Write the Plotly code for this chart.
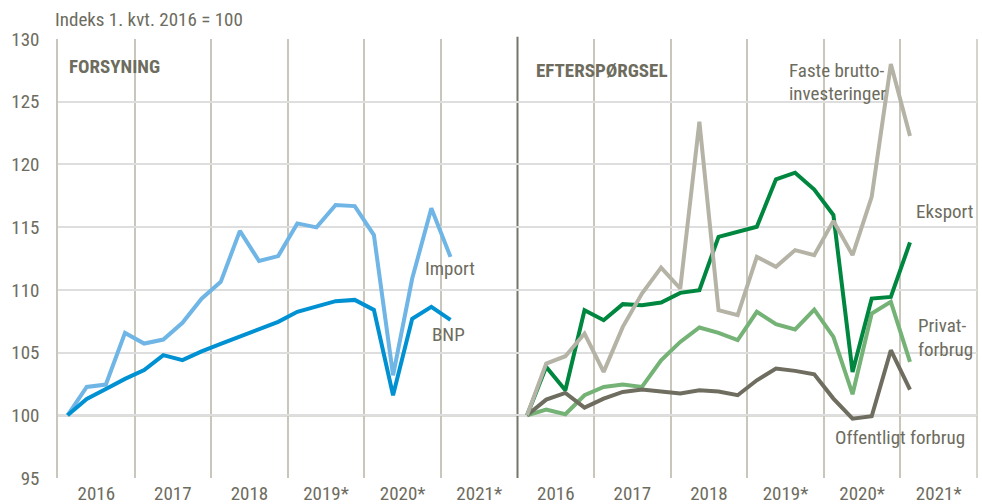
import plotly.graph_objects as go
from plotly.subplots import make_subplots

# ---------------- data ----------------
quarters = ["2016K1", "2016K2", "2016K3", "2016K4",
            "2017K1", "2017K2", "2017K3", "2017K4",
            "2018K1", "2018K2", "2018K3", "2018K4",
            "2019K1", "2019K2", "2019K3", "2019K4",
            "2020K1", "2020K2", "2020K3", "2020K4",
            "2021K1"]
year_labels = ["2016", "2017", "2018", "2019*", "2020*", "2021*"]
year_starts = [2016, 2017, 2018, 2019, 2020, 2021]

bnp = [100, 101.3, 102.1, 102.9, 103.6, 104.8, 104.4, 105.1, 105.7, 106.3, 106.9,
       107.45, 108.25, 108.7, 109.1, 109.2, 108.4, 101.6, 107.7, 108.65, 107.6]
imports = [100, 102.26, 102.45, 106.57, 105.72, 106.04, 107.37, 109.3, 110.64, 114.7, 112.3,
           112.69, 115.3, 114.98, 116.76, 116.68, 114.37, 103.19, 110.9, 116.5, 112.63]

eksport = [100, 103.86, 102.0, 108.38, 107.58, 108.86, 108.78, 108.99, 109.76, 109.98, 114.23,
           114.63, 115.03, 118.81, 119.34, 118.0, 115.96, 103.46, 109.31, 109.44, 113.78]
faste = [100, 104.12, 104.71, 106.52, 103.46, 107.05, 109.71, 111.78, 110.11, 123.41, 108.38,
         107.98, 112.63, 111.84, 113.17, 112.77, 115.5, 112.77, 117.42, 128.0, 122.27]
privat = [100, 100.45, 100.08, 101.6, 102.26, 102.45, 102.26, 104.39, 105.85, 107.0, 106.57,
          105.99, 108.25, 107.26, 106.84, 108.43, 106.25, 101.68, 108.12, 109.05, 104.26]
offentlig = [100, 101.25, 101.78, 100.61, 101.33, 101.86, 102.05, 101.92, 101.73, 102.0, 101.9,
             101.6, 102.79, 103.73, 103.54, 103.27, 101.33, 99.73, 99.92, 105.19, 102.05]

# quarter label -> position on a linear time axis (centre of the quarter)
xq = [int(q[:4]) + (int(q[-1]) - 1) / 4 + 0.125 for q in quarters]
tick_pos = [y + 0.5 for y in year_starts]

# ---------------- style ----------------
FONT = "Roboto Condensed, Liberation Sans Narrow, Arial Narrow, sans-serif"
FS = 19
TXT = "#6d6c5e"
C_BNP = "#0091d3"
C_IMP = "#6fb5e5"
C_EKS = "#00873f"
C_FAS = "#b5b3a6"
C_PRI = "#74b276"
C_OFF = "#6f6d60"
LW = 4

fig = make_subplots(rows=1, cols=2, shared_yaxes=True, horizontal_spacing=0)

fig.add_trace(go.Scatter(x=xq, y=imports, mode="lines", name="Import",
                         line=dict(color=C_IMP, width=LW)), row=1, col=1)
fig.add_trace(go.Scatter(x=xq, y=bnp, mode="lines", name="BNP",
                         line=dict(color=C_BNP, width=LW)), row=1, col=1)

fig.add_trace(go.Scatter(x=xq, y=privat, mode="lines", name="Privatforbrug",
                         line=dict(color=C_PRI, width=LW)), row=1, col=2)
fig.add_trace(go.Scatter(x=xq, y=offentlig, mode="lines", name="Offentligt forbrug",
                         line=dict(color=C_OFF, width=LW)), row=1, col=2)
fig.add_trace(go.Scatter(x=xq, y=eksport, mode="lines", name="Eksport",
                         line=dict(color=C_EKS, width=LW)), row=1, col=2)
fig.add_trace(go.Scatter(x=xq, y=faste, mode="lines", name="Faste bruttoinvesteringer",
                         line=dict(color=C_FAS, width=LW)), row=1, col=2)

L, T, W, H = 58, 39, 919, 439
fig.update_layout(
    width=982, height=504, autosize=False,
    margin=dict(l=L, r=982 - L - W, t=T, b=504 - T - H, autoexpand=False),
    paper_bgcolor="white", plot_bgcolor="white",
    showlegend=False,
    font=dict(family=FONT, color=TXT, size=FS),
)

fig.update_xaxes(range=[2016, 2022], tickmode="array", tickvals=tick_pos, ticktext=year_labels,
                 showgrid=False, zeroline=False, showline=False, ticks="", automargin=False,
                 tickfont=dict(family=FONT, size=FS, color=TXT), ticklabelstandoff=2,
                 minor=dict(tick0=2016, dtick=1, showgrid=True, gridcolor="#c9c7bb", gridwidth=1.5,
                            ticks=""))
fig.update_xaxes(domain=[0, 0.5], row=1, col=1)
fig.update_xaxes(domain=[0.5, 1], row=1, col=2)

fig.update_yaxes(range=[95, 130], dtick=5, tick0=95, showgrid=True, gridcolor="#dedede",
                 gridwidth=1.5, zeroline=False, ticks="", automargin=False,
                 tickfont=dict(family=FONT, size=FS, color=TXT), ticklabelstandoff=13)
fig.update_yaxes(showline=True, linecolor="#c9c7bb", linewidth=1.5, row=1, col=1)


def px(x, y):
    return (x - L) / W, 1 - (y - T) / H


shapes = []
# index = 100 base line
shapes.append(dict(type="line", xref="paper", yref="y", x0=0, x1=1, y0=100, y1=100,
                   line=dict(color="#77766a", width=2), layer="below"))
# divider between the two panels
shapes.append(dict(type="line", xref="paper", yref="paper", x0=0.5, x1=0.5, y0=0, y1=1.005,
                   line=dict(color="#77766a", width=2), layer="below"))
# right panel edge
shapes.append(dict(type="line", xref="paper", yref="paper", x0=1, x1=1, y0=0, y1=1,
                   line=dict(color="#c9c7bb", width=1.5), layer="below"))
fig.update_layout(shapes=shapes)

annots = [
    ("Indeks 1. kvt. 2016 = 100", 53, 19, False),
    ("FORSYNING", 67, 66, True),
    ("EFTERSPØRGSEL", 534, 70, True),
    ("Import", 423, 268, False),
    ("BNP", 430, 334, False),
    ("Faste brutto-", 787, 70, False),
    ("investeringer", 787, 93, False),
    ("Eksport", 914, 212, False),
    ("Privat-", 916, 325, False),
    ("forbrug", 916, 349, False),
    ("Offentligt forbrug", 833, 437, False),
]
for text, x, y, bold in annots:
    ax, ay = px(x, y)
    fig.add_annotation(text=f"<b>{text}</b>" if bold else text, xref="paper", yref="paper",
                       x=ax, y=ay, xanchor="left", yanchor="middle", showarrow=False,
                       font=dict(family=FONT, size=FS, color=TXT))

fig.write_html("out.html", config={"displayModeBar": False},
               post_script="document.body.style.margin='0px';")
